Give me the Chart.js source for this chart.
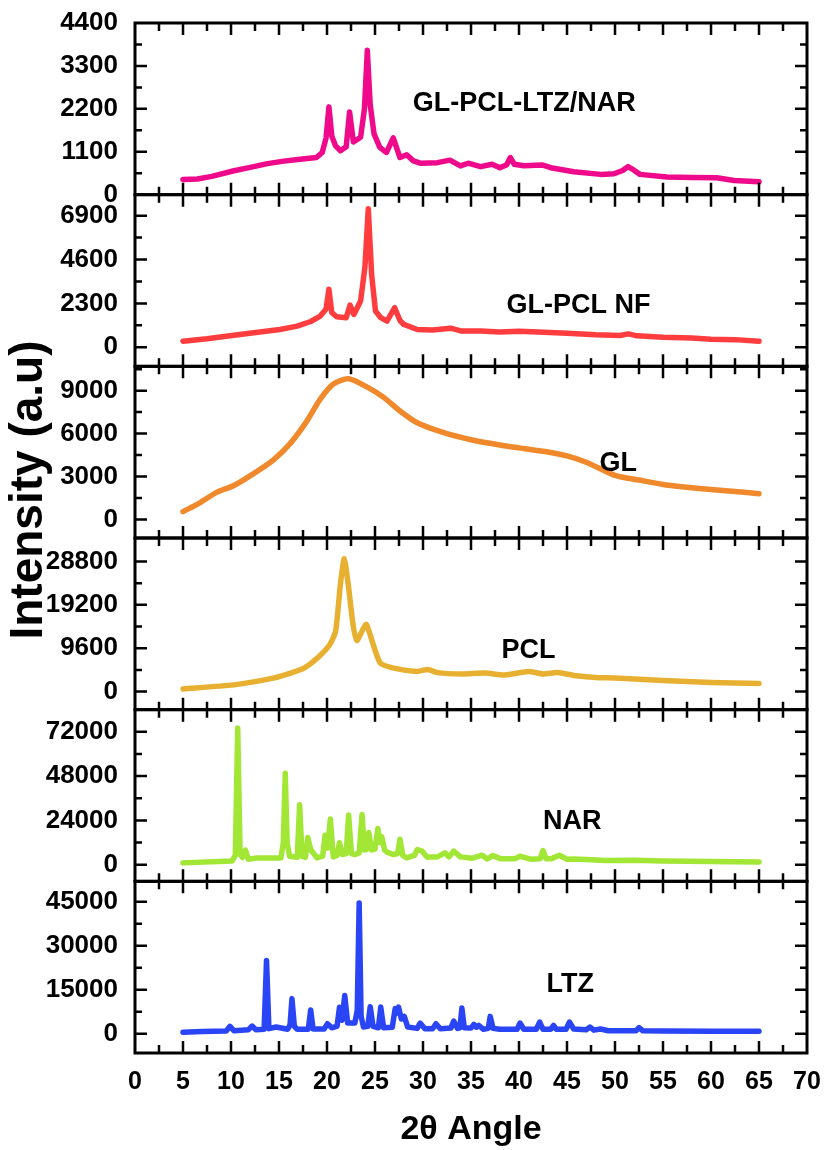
<!DOCTYPE html>
<html>
<head>
<meta charset="utf-8">
<script src="https://cdn.jsdelivr.net/npm/chart.js@4.4.1/dist/chart.umd.min.js"></script>
<style>
  html, body { margin: 0; padding: 0; background: #fff; }
  #wrap { width: 825px; height: 1150px; position: relative; }
</style>
</head>
<body>
<div id="wrap"><canvas id="c" width="825" height="1150"></canvas></div>
<script>
// ---------- DATA ----------
const panelNames = ['GL-PCL-LTZ/NAR', 'GL-PCL NF', 'GL', 'PCL', 'NAR', 'LTZ'];

const blendPts = [[5,390],[6.5,400],[8,470],[10.2,606],[12,700],[13.8,796],[15.5,860],[17.2,910],[18.9,952],[19.5,1082],[19.9,1450],[20.2,2250],[20.5,1500],[20.9,1250],[21.4,1126],[22.0,1230],[22.35,2120],[22.75,1350],[23.5,1472],[23.9,2200],[24.2,3700],[24.5,2300],[24.9,1560],[25.5,1212],[26.2,1082],[26.9,1456],[27.6,952],[28.3,1022],[29.0,866],[29.7,806],[31.5,820],[32.8,884],[33.9,736],[34.7,806],[36.0,718],[37.2,780],[38.0,692],[38.7,760],[39.1,952],[39.5,780],[40.5,740],[42.4,762],[43.3,692],[45.7,588],[48.5,520],[49.9,536],[50.8,620],[51.35,718],[51.9,640],[52.6,520],[55.4,450],[58,440],[60.6,432],[62.4,364],[65,328]];

const nfPts = [[5,316],[7.5,450],[10.3,633],[13,800],[15.1,933],[16.9,1108],[18.3,1350],[19.3,1635],[19.9,2000],[20.2,3044],[20.5,1810],[21,1600],[22,1547],[22.4,2215],[22.8,1723],[23.5,2426],[23.95,4200],[24.3,7263],[24.65,3800],[25.05,1899],[25.6,1550],[26.25,1371],[27.05,2073],[27.6,1400],[28,1196],[29.4,933],[31,900],[32.9,1000],[34,850],[36,850],[38,800],[40,844],[42,800],[45,738],[48,650],[50.5,620],[51.4,700],[52.3,600],[55,527],[58,480],[60,422],[62.5,400],[65,316]];

const glPts = [[5,540],[6.8,1180],[8.5,1891],[10.3,2368],[12.35,3200],[14.4,4145],[16.2,5333],[17.9,6868],[19.3,8411],[20.7,9477],[22.25,9833],[24.2,9243],[25.9,8532],[27.6,7580],[29.4,6755],[32,6100],[35,5570],[38,5200],[40,5000],[43,4716],[45,4440],[47,4000],[50,3080],[52.5,2750],[55,2440],[57.5,2250],[60,2090],[62.5,1950],[65,1800]];

const pclPts = [[5,600],[10.3,1488],[14.4,2970],[16.2,4090],[17.6,5200],[19,7436],[20.3,10430],[20.9,13400],[21.4,23830],[21.8,29400],[22.25,23070],[22.7,15000],[23.1,11320],[23.65,13400],[24.1,14890],[24.7,11170],[25.55,6320],[26.95,5200],[29.4,4466],[30.5,4900],[31.5,4200],[34,3900],[36.5,4100],[38.5,3700],[41,4466],[42.5,3900],[44,4240],[46,3500],[48,3100],[50,3000],[55,2450],[60,2000],[65,1800]];

const narPts = [[5,1000],[10.1,2000],[10.45,5000],[10.7,74000],[10.95,5500],[11.2,4000],[11.5,7900],[11.8,3000],[12.7,3700],[15.2,3700],[15.45,12000],[15.65,49500],[15.85,12000],[16.1,4600],[16.9,4000],[17.15,32500],[17.4,4500],[17.75,4000],[18.0,14700],[18.3,8250],[18.95,3700],[19.55,4600],[19.8,16000],[20.05,9000],[20.35,24800],[20.65,4240],[21.05,5000],[21.3,11950],[21.6,5500],[22.0,6000],[22.25,27000],[22.55,6000],[22.9,5500],[23.35,6400],[23.65,27200],[23.9,8000],[24.1,8250],[24.35,17450],[24.65,8000],[25.0,8500],[25.3,19650],[25.5,12000],[25.7,15250],[26.0,8000],[26.25,6830],[26.95,5500],[27.35,6000],[27.6,13760],[27.9,5000],[28.3,3700],[29.1,5000],[29.4,8250],[29.9,7400],[30.4,4240],[31.5,4240],[32.3,6400],[32.7,4240],[33.2,7400],[33.9,4240],[35.1,3500],[36.15,5150],[36.7,3100],[37.25,4950],[38.05,3300],[39.6,3300],[40.1,4600],[41.2,3000],[42.2,3200],[42.5,7700],[42.8,3300],[43.4,3300],[44.2,5150],[45,3000],[45.7,3100],[47.5,2700],[49,2300],[52,2400],[55,2000],[60,1800],[65,1500]];

const ltzPts = [[5,500],[7,700],[9.5,900],[9.9,2500],[10.3,1000],[11.8,1300],[12.2,2600],[12.6,1300],[13.45,1500],[13.7,25000],[13.95,1700],[14.7,2270],[15.9,1500],[16.15,3000],[16.35,11960],[16.6,2500],[16.9,1500],[18.05,1500],[18.3,8100],[18.55,1600],[19.7,1600],[20.05,3400],[20.5,2000],[21.05,2600],[21.3,9000],[21.55,4550],[21.85,13000],[22.15,3600],[22.9,3600],[23.15,8000],[23.35,44600],[23.55,6000],[23.8,2270],[24.25,2500],[24.5,9200],[24.8,2500],[25.35,2000],[25.6,9090],[25.9,2000],[26.8,2200],[27.1,8540],[27.25,7000],[27.45,9090],[27.75,5000],[28.05,5910],[28.4,2270],[29.4,1800],[29.7,3620],[30.2,1700],[31.0,1700],[31.35,3400],[31.8,1700],[32.9,1900],[33.2,4300],[33.6,1800],[33.85,2000],[34.05,8770],[34.3,2000],[35.0,1900],[35.3,3180],[35.55,2200],[35.8,2850],[36.3,1500],[36.8,1800],[37.0,5910],[37.3,1800],[38.0,1500],[39.8,1500],[40.1,3620],[40.5,1500],[41.8,1500],[42.15,3960],[42.5,1500],[43.3,1500],[43.6,2840],[43.9,1500],[44.9,1500],[45.25,3960],[45.7,1600],[47.0,1300],[47.4,2270],[47.8,1200],[48.5,1600],[49.3,1000],[52.2,1000],[52.5,2050],[52.9,1000],[55,900],[60,850],[65,800]];

// y tick labels for each panel (top to bottom)
const yTicks1 = [0, 1100, 2200, 3300, 4400];
const yTicks2 = [0, 2300, 4600, 6900];
const yTicks3 = [0, 3000, 6000, 9000];
const yTicks4 = [0, 9600, 19200, 28800];
const yTicks5 = [0, 24000, 48000, 72000];
const yTicks6 = [0, 15000, 30000, 45000];

// axis ranges
const yMins = [0, -1000, -1300, -4000, -9000, -6600];
const yMaxs = [4400, 8000, 10700, 34000, 84000, 52000];

const xTicks = [0, 5, 10, 15, 20, 25, 30, 35, 40, 45, 50, 55, 60, 65, 70];

// ---------- STYLE / LAYOUT ----------
const seriesList = [blendPts, nfPts, glPts, pclPts, narPts, ltzPts];
const tickLists = [yTicks1, yTicks2, yTicks3, yTicks4, yTicks5, yTicks6];
const colors = ['#EE0A8A', '#FF3D3F', '#F0892B', '#E8B030', '#A2E636', '#2A45F5'];
const tensions = [0, 0, 0.25, 0.2, 0, 0];
// label anchors in data units of each panel
const labelPos = [[40.55, 2140], [46.2, 1790], [50.35, 3360], [41.0, 7370], [45.55, 19100], [45.35, 14100]];

Chart.defaults.font.family = '"Liberation Sans", Arial, sans-serif';
Chart.defaults.color = '#000';

const FONT_X = { family: '"Liberation Sans", Arial, sans-serif', size: 25, weight: 'bold' };
const FONT_Y = { family: '"Liberation Sans", Arial, sans-serif', size: 26, weight: 'bold' };

const scales = {
  x: {
    type: 'linear', position: 'bottom', min: 0, max: 70,
    grid: { display: false, drawTicks: false }, border: { display: false },
    afterBuildTicks: s => { s.ticks = xTicks.map(v => ({ value: v })); },
    afterFit: s => { s.height = 97; s.paddingLeft = 0; s.paddingRight = 0; },
    ticks: { font: FONT_X, padding: 14, callback: v => String(v), maxRotation: 0, autoSkip: false },
    title: { display: true, text: '2θ Angle', font: { size: 34, weight: 'bold' }, padding: { top: 0, bottom: 0 } }
  }
};
const datasets = [];
seriesList.forEach((pts, i) => {
  const id = 'y' + (i + 1);
  const tl = tickLists[i];
  scales[id] = {
    type: 'linear', position: 'left', stack: 'panels', stackWeight: 1, weight: 6 - i,
    min: yMins[i], max: yMaxs[i], offset: false,
    grid: { display: false, drawTicks: false }, border: { display: false },
    afterBuildTicks: s => { s.ticks = tl.map(v => ({ value: v })); },
    afterFit: s => { s.width = 135; s.paddingTop = 0; s.paddingBottom = 0; },
    ticks: { font: FONT_Y, padding: 17, callback: v => String(v), autoSkip: false }
  };
  datasets.push({
    label: panelNames[i],
    data: pts.map(p => ({ x: p[0], y: p[1] })),
    yAxisID: id, xAxisID: 'x',
    borderColor: colors[i], backgroundColor: colors[i],
    borderWidth: 5.5, pointRadius: 0, tension: tensions[i],
    borderJoinStyle: 'round', borderCapStyle: 'round', fill: false
  });
});

const framePlugin = {
  id: 'frames',
  afterDatasetsDraw(chart) {
    const ctx = chart.ctx;
    const xs = chart.scales.x;
    const L = chart.chartArea.left, R = chart.chartArea.right;
    ctx.save();
    ctx.strokeStyle = '#000';
    ctx.fillStyle = '#000';
    for (let i = 0; i < 6; i++) {
      const s = chart.scales['y' + (i + 1)];
      const T = s.top, B = s.bottom;
      ctx.lineWidth = 2.5;
      const tl = tickLists[i];
      const step = tl[1] - tl[0];
      for (let v = tl[0] - step; v <= yMaxs[i] + 1; v += step / 2) {
        if (v < yMins[i] || v > yMaxs[i]) continue;
        const py = s.getPixelForValue(v);
        if (py < T + 2 || py > B - 2) continue;
        const major = Math.abs(v / step - Math.round(v / step)) < 1e-6;
        const len = major ? 12 : 7;
        ctx.beginPath();
        ctx.moveTo(L, py); ctx.lineTo(L + len, py);
        ctx.moveTo(R, py); ctx.lineTo(R - len, py);
        ctx.stroke();
      }
      for (let xv = 2.5; xv < 70; xv += 2.5) {
        const px = xs.getPixelForValue(xv);
        const major = Math.abs(xv % 5) < 1e-6;
        const len = major ? 12 : 8;
        ctx.beginPath();
        ctx.moveTo(px, B); ctx.lineTo(px, B - len);
        ctx.moveTo(px, T); ctx.lineTo(px, T + len);
        ctx.stroke();
      }
      ctx.lineWidth = 3;
      ctx.strokeRect(L, T, R - L, B - T);
      ctx.font = 'bold 27px "Liberation Sans", Arial, sans-serif';
      ctx.textAlign = 'center';
      ctx.textBaseline = 'alphabetic';
      ctx.fillText(panelNames[i], xs.getPixelForValue(labelPos[i][0]), s.getPixelForValue(labelPos[i][1]));
    }
    ctx.save();
    ctx.translate(29, 490);
    ctx.rotate(-Math.PI / 2);
    ctx.font = 'bold 46px "Liberation Sans", Arial, sans-serif';
    ctx.textAlign = 'center';
    ctx.textBaseline = 'middle';
    ctx.fillText('Intensity (a.u)', 0, 0);
    ctx.restore();
    ctx.restore();
  }
};

new Chart(document.getElementById('c'), {
  type: 'line',
  data: { datasets },
  options: {
    responsive: false, animation: false, devicePixelRatio: 1,
    layout: { padding: { left: 0, right: 18, top: 23, bottom: 0 } },
    plugins: { legend: { display: false }, tooltip: { enabled: false } },
    scales
  },
  plugins: [framePlugin]
});
</script>
</body>
</html>
